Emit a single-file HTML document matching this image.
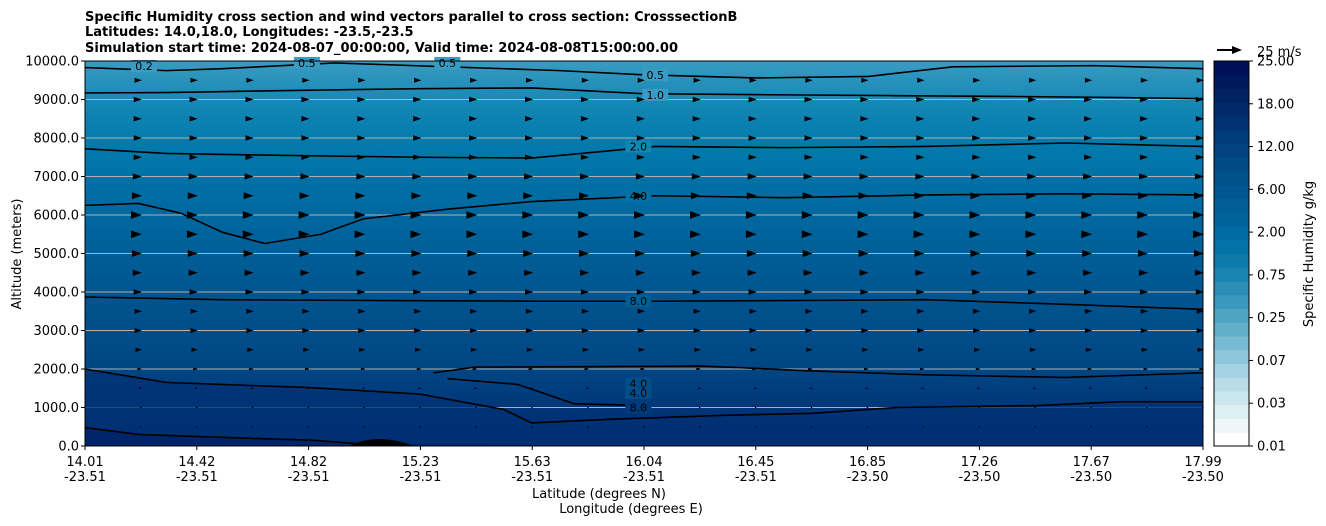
<!DOCTYPE html>
<html><head><meta charset="utf-8">
<style>
html,body{margin:0;padding:0;background:#fff;}
svg{display:block;font-family:"DejaVu Sans","Liberation Sans",sans-serif;}
</style></head>
<body>
<svg id="chart" width="1326" height="526" viewBox="0 0 1326 526" xmlns="http://www.w3.org/2000/svg">
<defs>
<linearGradient id="bg" x1="0" y1="0" x2="0" y2="1">
<stop offset="0" stop-color="#3a9cc2"/>
<stop offset="0.06" stop-color="#2590bb"/>
<stop offset="0.12" stop-color="#1386b4"/>
<stop offset="0.2" stop-color="#047cad"/>
<stop offset="0.3" stop-color="#0072a6"/>
<stop offset="0.4" stop-color="#00689f"/>
<stop offset="0.5" stop-color="#005e97"/>
<stop offset="0.6" stop-color="#00558f"/>
<stop offset="0.7" stop-color="#004d89"/>
<stop offset="0.8" stop-color="#004684"/>
<stop offset="0.88" stop-color="#003a7c"/>
<stop offset="0.95" stop-color="#002d72"/>
<stop offset="1" stop-color="#002467"/>
</linearGradient>
</defs>
<g font-weight="bold" font-size="13" fill="#000">
<text x="85" y="21">Specific Humidity cross section and wind vectors parallel to cross section: CrosssectionB</text>
<text x="85" y="36">Latitudes: 14.0,18.0, Longitudes: -23.5,-23.5</text>
<text x="85" y="52">Simulation start time: 2024-08-07_00:00:00, Valid time: 2024-08-08T15:00:00.00</text>
</g>
<rect x="85" y="61" width="1118" height="385" fill="url(#bg)"/>
<g id="grid"></g>
<g id="contours"></g>
<g id="arrows"></g>
<rect x="85" y="61" width="1118" height="385" fill="none" stroke="#000" stroke-width="1"/>
<g id="axes" font-size="13" fill="#000"></g>
<text x="21" y="254" font-size="13" text-anchor="middle" transform="rotate(-90 21 254)">Altitude (meters)</text>
<text x="599" y="498" font-size="13" text-anchor="middle">Latitude (degrees N)</text>
<text x="631" y="513" font-size="13" text-anchor="middle">Longitude (degrees E)</text>
<g id="cbar"></g>
<text x="1313" y="254" font-size="13" text-anchor="middle" transform="rotate(-90 1313 254)">Specific Humidity g/kg</text>
<g>
<line x1="1217" y1="50" x2="1234" y2="50" stroke="#000" stroke-width="2"/>
<polygon points="1232,46 1242,50 1232,54" fill="#000"/>
<text x="1257" y="56" font-size="13">25 m/s</text>
</g>
</svg>
<script>
const xTickLat=["14.01","14.42","14.82","15.23","15.63","16.04","16.45","16.85","17.26","17.67","17.99"];
const xTickLon=["-23.51","-23.51","-23.51","-23.51","-23.51","-23.51","-23.51","-23.50","-23.50","-23.50","-23.50"];
const yTicks=[0,1000,2000,3000,4000,5000,6000,7000,8000,9000,10000];
const cbarTicks=["0.01","0.03","0.07","0.25","0.75","2.00","6.00","12.00","18.00","25.00"];
const windRows=[500,1000,1500,2000,2500,3000,3500,4000,4500,5000,5500,6000,6500,7000,7500,8000,8500,9000,9500];
const windSpeed=[1,1,2,4,6,7,7,8,9,10,11,11,10,9,8,8,8,8,7];
const windCols=21;
// contour lines: [lat, altitude] pairs
const c05=[[14.01,9830],[14.3,9750],[14.5,9800],[14.9,9950],[15.3,9850],[15.7,9750],[16.0,9640],[16.4,9560],[16.8,9600],[17.1,9850],[17.6,9880],[17.99,9800]];
const c10=[[14.01,9170],[14.3,9180],[14.7,9230],[15.2,9280],[15.6,9300],[16.0,9150],[16.5,9120],[16.9,9100],[17.3,9080],[17.7,9050],[17.99,9020]];
const c20=[[14.01,7720],[14.3,7600],[14.7,7550],[15.2,7500],[15.6,7480],[16.04,7780],[16.5,7750],[17.0,7780],[17.5,7870],[17.99,7780]];
const c40=[[14.01,6250],[14.2,6300],[14.35,6050],[14.5,5550],[14.65,5260],[14.85,5500],[15.0,5900],[15.3,6150],[15.6,6350],[16.04,6500],[16.5,6450],[17.0,6520],[17.5,6550],[17.99,6520]];
const c80=[[14.01,3870],[14.5,3800],[15.0,3780],[15.63,3760],[16.04,3760],[16.6,3780],[17.0,3800],[17.5,3680],[17.99,3550]];
const c40b=[[15.25,1900],[15.4,2050],[15.8,2060],[16.2,2080],[16.6,1950],[17.0,1850],[17.5,1780],[17.99,1900]];
const c80b=[[14.01,2000],[14.3,1650],[14.8,1520],[15.2,1350],[15.5,950],[15.6,600],[15.9,700],[16.3,800],[16.6,850],[16.9,1000],[17.4,1050],[17.7,1150],[17.99,1150]];
const c40i=[[15.3,1750],[15.55,1600],[15.75,1100],[16.0,1050]];
const c16=[[14.01,480],[14.2,300],[14.6,200],[14.82,150],[15.0,50]];
const contourLabels=[["0.5",16.04,9640],["1.0",16.04,9120],["2.0",15.98,7780],["4.0",15.98,6500],["8.0",15.98,3770],["4.0",15.98,1620],["4.0",15.98,1380],["8.0",15.98,1000],["0.2",14.22,9870],["0.5",14.8,9950],["0.5",15.3,9950]];

const NS='http://www.w3.org/2000/svg';
const X0=85,X1=1203,Y0=446,Y1=61,LAT0=14.01,LAT1=17.99;
const xs=l=>X0+(l-LAT0)/(LAT1-LAT0)*(X1-X0);
const ys=a=>Y0-(a/10000)*(Y0-Y1);
function mk(tag,attrs,parent){const e=document.createElementNS(NS,tag);for(const k in attrs)e.setAttribute(k,attrs[k]);parent.appendChild(e);return e;}
const grid=document.getElementById('grid'),axes=document.getElementById('axes');
yTicks.forEach((v,i)=>{
  const y=ys(v);
  if(v>0&&v<10000){const g=mk('line',{x1:X0,x2:X1,y1:y,y2:y,stroke:'#b0b0b0','stroke-width':1},grid);
  
  }
  mk('line',{x1:X0-4,x2:X0,y1:y,y2:y,stroke:'#000'},axes);
  const t=mk('text',{x:X0-6,y:y+4.5,'text-anchor':'end'},axes);t.textContent=v.toFixed(1);
  
  
});
xTickLat.forEach((l,i)=>{
  const x=X0+i/(xTickLat.length-1)*(X1-X0);
  mk('line',{x1:x,x2:x,y1:Y0,y2:Y0+4,stroke:'#000'},axes);
  const t=mk('text',{x:x,y:466,'text-anchor':'middle'},axes);t.textContent=l;
  
  
  const t2=mk('text',{x:x,y:481,'text-anchor':'middle'},axes);t2.textContent=xTickLon[i];
  
  
});
const cg=document.getElementById('contours');
const bf=mk('path',{d:'M'+c80b.map(p=>xs(p[0])+','+ys(p[1])).join(' L')+' L'+X1+','+Y0+' L'+X0+','+Y0+'Z',fill:'#003276',opacity:0.8},cg);


const bf2=mk('path',{d:'M'+c16.map(p=>xs(p[0])+','+ys(p[1])).join(' L')+' L'+xs(15.6)+','+ys(40)+' L'+xs(15.6)+','+Y0+' L'+X0+','+Y0+'Z',fill:'#00246a'},cg);


[c05,c10,c20,c40,c80,c40b,c80b,c40i,c16].forEach(c=>{
  const p=mk('polyline',{points:c.map(p=>xs(p[0])+','+ys(p[1])).join(' '),fill:'none',stroke:'#000','stroke-width':1.6},cg);
  
  
});
mk('path',{d:'M'+xs(14.95)+','+Y0+' Q'+xs(15.05)+','+(Y0-14)+' '+xs(15.18)+','+Y0+'Z',fill:'#000'},cg);
function bgAt(a){const f=1-a/10000;const st=[[0,'#3a9cc2'],[0.12,'#1386b4'],[0.3,'#0072a6'],[0.5,'#005e97'],[0.7,'#004d89'],[0.88,'#003a7c'],[1,'#002467']];let c=st[0][1];st.forEach(s=>{if(f>=s[0])c=s[1];});return c;}
contourLabels.forEach(l=>{
  const x=xs(l[1]),y=ys(l[2]);
  const r=mk('rect',{x:x-13,y:y-6,width:26,height:12,fill:bgAt(l[2])},cg);
  
  
  const t=mk('text',{x:x,y:y+4,'text-anchor':'middle','font-size':11,fill:'#000'},cg);t.textContent=l[0];
  
  
});
const ag=document.getElementById('arrows');
windRows.forEach((a,ri)=>{
  const s=windSpeed[ri];
  for(let c=1;c<windCols;c++){
    const x=X0+c*(X1-X0)/(windCols-1),y=ys(a);
    const L=s*0.9,h=Math.max(1,s*0.35);
    const p=mk('polygon',{points:(x-L)+','+(y-h)+' '+(x+1)+','+y+' '+(x-L)+','+(y+h),fill:'#000'},ag);
    
    
  }
});
const cb=document.getElementById('cbar');
const cols=['#ffffff','#eef6f9','#deeff4','#cce6ee','#b9dce8','#a5d2e2','#8fc7da','#78bbd2','#63afca','#4fa3c3','#3b98bd','#2a8eb7','#1984b1','#0c7bab','#0372a6','#006ba0','#00649b','#005d96','#005690','#00508b','#004a86','#004380','#003b79','#003271','#002a69','#002162','#00185c','#000f58'];
const CY0=446,CY1=61,n=cols.length;
cols.forEach((c,i)=>{
  const h=(CY0-CY1)/n;
  const r=mk('rect',{x:1214,y:CY0-(i+1)*h,width:35,height:h+0.5,fill:c},cb);
  
  
});
mk('rect',{x:1214,y:CY1,width:35,height:CY0-CY1,fill:'none',stroke:'#000'},cb);
cbarTicks.forEach((t,i)=>{
  const y=CY0-i*(CY0-CY1)/(cbarTicks.length-1);
  mk('line',{x1:1249,x2:1253,y1:y,y2:y,stroke:'#000'},cb);
  const e=mk('text',{x:1257,y:y+4.5,'font-size':13},cb);e.textContent=t;
  
  
});
</script>
</body></html>
